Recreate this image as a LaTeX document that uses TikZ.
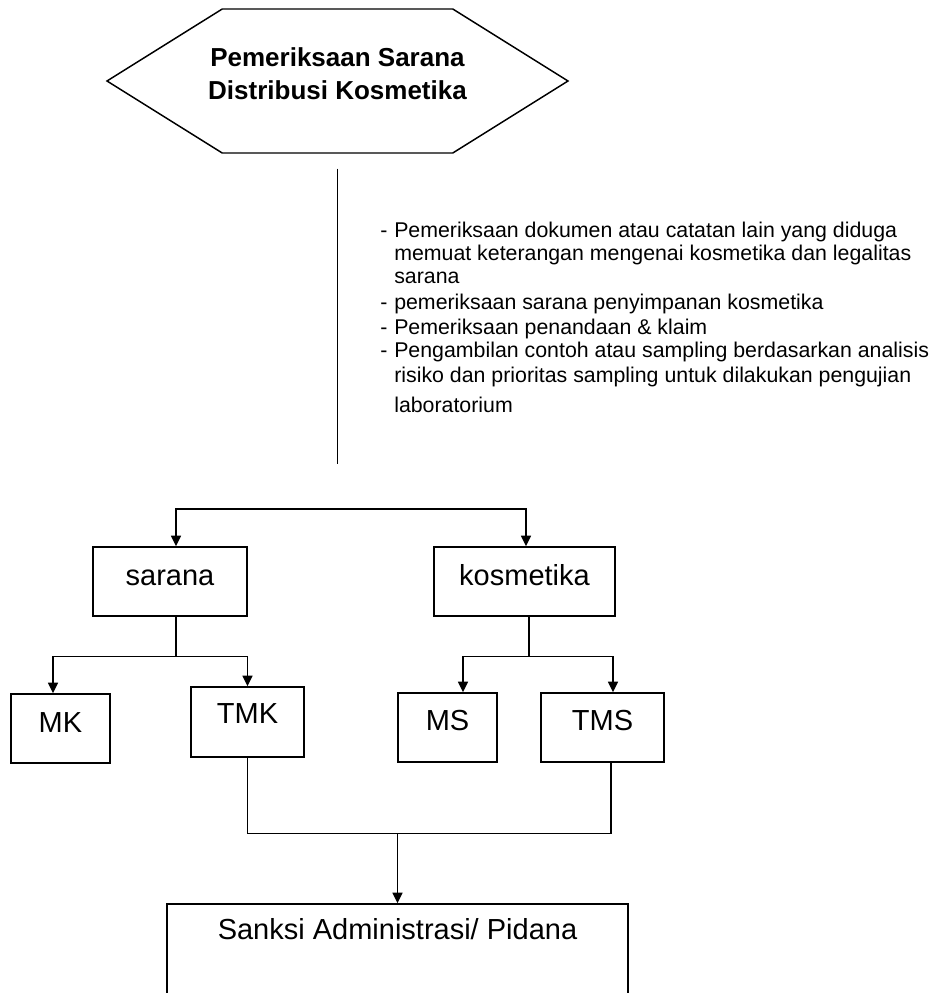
\documentclass[tikz,border=0pt]{standalone}
\usepackage{fontspec}
\setmainfont{Liberation Sans}
\usetikzlibrary{calc}
\usetikzlibrary{shapes}
\usetikzlibrary{arrows.meta}
\tikzset{
  garis/.style={line width=1.1pt},
  panah/.style={garis, -{Triangle[length=8pt,width=7.5pt]}},
  kotak/.style={draw, garis, inner sep=0pt, text depth=9.5pt,
    font=\fontsize{21.75}{24}\selectfont},
  segienam/.style={draw, garis, signal, signal to=west and east,
    signal pointer angle=64, inner sep=0pt,
    minimum width=345.75pt, minimum height=108pt},
  judul/.style={align=center, inner sep=0pt,
    font=\bfseries\fontsize{19.5}{24.75}\selectfont},
  keterangan/.style={align=left, inner sep=0pt,
    font=\fontsize{16}{17.25}\selectfont}
}
\newcommand{\butir}{\makebox[10.5pt][l]{-}}
\newcommand{\lanjut}{\hspace*{10.5pt}}

\begin{document}
\begin{tikzpicture}[x=0.75pt, y=-0.75pt]
\useasboundingbox (0,0) rectangle (936,993);
% kepala
\node[segienam] (hex) at (337.5,81) {};
\node[judul] (judul) at ($(hex.center)+(0,-7)$) {Pemeriksaan Sarana\\Distribusi Kosmetika};
% daftar pemeriksaan
\node[keterangan, anchor=north west] (ket) at (380,222) {%
\butir Pemeriksaan dokumen atau catatan lain yang diduga\\
\lanjut memuat keterangan mengenai kosmetika dan legalitas\\
\lanjut sarana\\[2.25pt]
\butir pemeriksaan sarana penyimpanan kosmetika\\[1.5pt]
\butir Pemeriksaan penandaan \& klaim\\
\butir Pengambilan contoh atau sampling berdasarkan analisis\\[1.5pt]
\lanjut risiko dan prioritas sampling untuk dilakukan pengujian\\[5.25pt]
\lanjut laboratorium};
% baris 1
\node[kotak, text depth=6pt, minimum width=115.5pt, minimum height=51.75pt] (sarana) at (170,581.5) {sarana};
\node[kotak, minimum width=135.75pt, minimum height=51.75pt] (kosmetika) at (524.5,581.5) {kosmetika};
% baris 2
\node[kotak, minimum width=74.25pt, minimum height=51.75pt] (mk) at (60.5,728.5) {MK};
\node[kotak, text depth=12.5pt, minimum width=84.75pt, minimum height=52.5pt] (tmk) at (247.5,722) {TMK};
\node[kotak, text depth=10.2pt, minimum width=74.25pt, minimum height=51.75pt] (ms) at (447.5,727.5) {MS};
\node[kotak, text depth=10.2pt, minimum width=92.25pt, minimum height=51.75pt] (tms) at (602.5,727.5) {TMS};
% baris 3
\node[kotak, text depth=52pt, minimum width=345.75pt, minimum height=90pt] (sanksi) at (397.5,964) {Sanksi Administrasi/ Pidana};
% garis penghubung
\coordinate (cabang) at (hex.south |- 0,509);
\draw[garis, shorten <=11.25pt, shorten >=33.75pt] (hex.south) -- (cabang);
\draw[panah] (cabang) -| ($(sarana.north)+(6,0)$);
\draw[panah] (cabang) -| ($(kosmetika.north)+(1.5,0)$);
\coordinate (sfork) at ($(sarana.south)+(6,40)$);
\draw[garis] ($(sarana.south)+(6,0)$) -- (sfork);
\draw[panah] (sfork) -| ($(mk.north)+(-7.5,0)$);
\draw[panah] (sfork) -| (tmk);
\coordinate (kfork) at ($(kosmetika.south)+(4.5,40)$);
\draw[garis] ($(kosmetika.south)+(4.5,0)$) -- (kfork);
\draw[panah] (kfork) -| ($(ms.north)+(15.5,0)$);
\draw[panah] (kfork) -| ($(tms.north)+(10.5,0)$);
\coordinate (gabung) at ($(sanksi.north)+(0,-70)$);
\draw[garis] (tmk.south) |- (gabung);
\draw[garis] ($(tms.south)+(8.5,0)$) |- (gabung);
\draw[panah] (gabung) -- (sanksi);
\end{tikzpicture}
\end{document}
